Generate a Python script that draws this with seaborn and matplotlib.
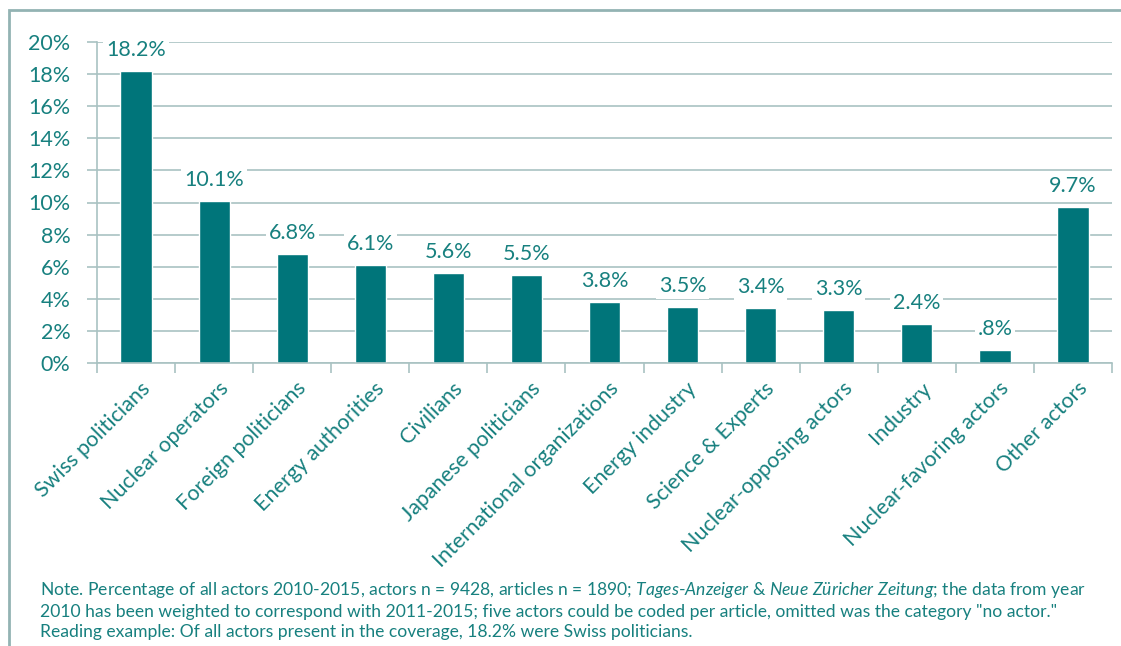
import matplotlib
matplotlib.use("Agg")
import matplotlib.pyplot as plt
import matplotlib.transforms as mtransforms
import seaborn as sns
import pandas as pd
from matplotlib.ticker import FixedLocator, PercentFormatter
from matplotlib.patches import Rectangle

categories = ["Swiss politicians", "Nuclear operators", "Foreign politicians",
              "Energy authorities", "Civilians", "Japanese politicians",
              "International organizations", "Energy industry", "Science & Experts",
              "Nuclear-opposing actors", "Industry", "Nuclear-favoring actors",
              "Other actors"]
values = [18.2, 10.1, 6.8, 6.1, 5.6, 5.5, 3.8, 3.5, 3.4, 3.3, 2.4, 0.8, 9.7]
y_ticks = [0, 2, 4, 6, 8, 10, 12, 14, 16, 18, 20]

BAR = "#00757a"
TXT = "#17807f"
GRID = "#a9c2c2"
FONT = ["Lato", "DejaVu Sans"]

sns.set_theme(style="white")
plt.rcParams["font.family"] = FONT
plt.rcParams["mathtext.fontset"] = "custom"
plt.rcParams["mathtext.it"] = "Lato:italic"
plt.rcParams["mathtext.rm"] = "Lato"

df = pd.DataFrame({"cat": categories, "val": values})

fig = plt.figure(figsize=(11.21, 6.46), dpi=100)
ax = fig.add_axes([97 / 1121, 1 - 363 / 646, (1112 - 97) / 1121, (363 - 42) / 646])

sns.barplot(data=df, x="cat", y="val", color=BAR, width=0.4, saturation=1, ax=ax, zorder=2)

ax.set_ylim(0, 20)
ax.set_xlim(-0.5, len(categories) - 0.5)
ax.yaxis.set_major_locator(FixedLocator(y_ticks))
ax.yaxis.set_major_formatter(PercentFormatter(decimals=0))
ax.grid(axis="y", color=GRID, lw=1.2, zorder=0)
ax.set_axisbelow(True)
for s in ["top", "right"]:
    ax.spines[s].set_visible(False)
for s in ["left", "bottom"]:
    ax.spines[s].set_color(GRID)
    ax.spines[s].set_linewidth(1.2)

ax.tick_params(axis="y", length=7, color=GRID, width=1.2, labelsize=15.5, labelcolor=TXT, pad=12, left=True)
ax.tick_params(axis="x", which="major", length=0, labelsize=15.5, labelcolor=TXT, pad=11)
ax.set_xticks([i + 0.5 for i in range(-1, len(categories))], minor=True)
ax.tick_params(axis="x", which="minor", length=7, color=GRID, width=1.2, bottom=True)
ax.set_xticks(range(len(categories)))
ax.set_xticklabels(categories, rotation=45, ha="right", va="top", rotation_mode="anchor")
offset = mtransforms.ScaledTranslation(4 / 100, 0, fig.dpi_scale_trans)
for lab in ax.get_xticklabels():
    lab.set_transform(lab.get_transform() + offset)
ax.set_xlabel("")
ax.set_ylabel("")

labels = [f"{v:.1f}%".lstrip("0") for v in values]
texts = ax.bar_label(ax.containers[0], labels=labels, padding=8, fontsize=15.5, color=TXT)
for t in texts:
    t.set_bbox(dict(facecolor="white", edgecolor="none", pad=2))
    t.set_zorder(3)

# outer frame
fig.patches.append(Rectangle((9 / 1121, -0.05), 1.1, 1 - 10 / 646 + 0.05,
                             transform=fig.transFigure, fill=False,
                             edgecolor="#93b3b3", lw=2))

note = ("Note. Percentage of all actors 2010-2015, actors n = 9428, articles n = 1890; "
        "$\\it{Tages}$-$\\it{Anzeiger}$ & $\\it{Neue\\ Züricher\\ Zeitung}$; the data from year\n"
        "2010 has been weighted to correspond with 2011-2015; five actors could be coded per article, "
        "omitted was the category \"no actor.\"\n"
        "Reading example: Of all actors present in the coverage, 18.2% were Swiss politicians.")
fig.text(40 / 1121, 1 - 580 / 646, note, ha="left", va="top", fontsize=12.6,
         color=TXT, linespacing=1.3)

fig.savefig("out.png", dpi=100)
